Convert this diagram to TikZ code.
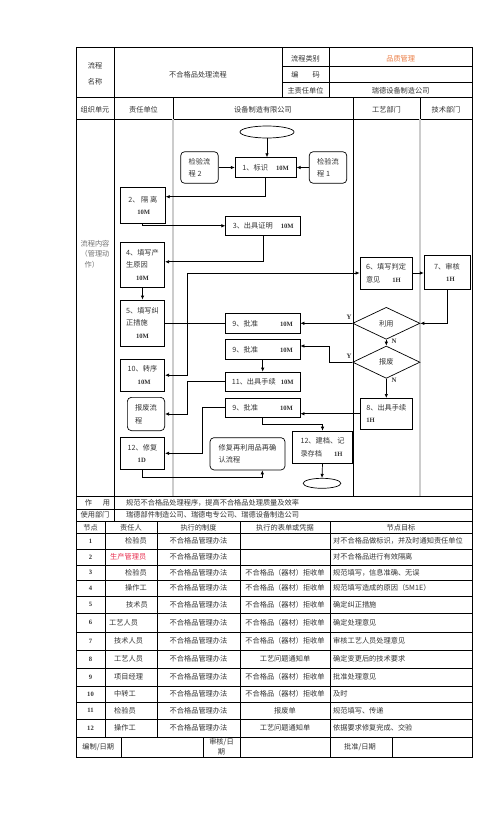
\documentclass[tikz,border=0pt]{standalone}
\usepackage{fontspec}
\setmainfont{Noto Sans CJK SC}
\newfontfamily\lser{Liberation Serif}
\usetikzlibrary{shapes.geometric,arrows.meta}
\definecolor{tx}{gray}{0.2}
\definecolor{orng}{RGB}{236,128,72}
\definecolor{redt}{RGB}{232,48,80}
\newcommand{\fsz}{\fontsize{7.2}{12.5}\selectfont}
\newcommand{\tm}[1]{{\lser\bfseries\fontsize{6.6}{12.5}\selectfont #1}}
\begin{document}
\begin{tikzpicture}[x=1pt,y=-1pt,
  every node/.style={font=\fsz,text=tx,inner sep=1pt},
  grid/.style={line width=0.8pt,black},
  lane/.style={line width=1.2pt,black!20},
  box/.style={draw,line width=0.7pt,align=left,inner sep=2pt,text=tx},
  rbox/.style={box,rounded corners=4pt},
  dia/.style={diamond,draw,line width=0.7pt,inner sep=0pt},
  oval/.style={ellipse,draw,line width=0.7pt,inner sep=0pt},
  arr/.style={line width=0.7pt,-{Latex[length=4pt,width=3.5pt]}},
  lbl/.style={font=\lser\bfseries\fontsize{6.8}{7}\selectfont,inner sep=0pt}
]
\fill[white] (0,0) rectangle (496,827);
\useasboundingbox (0,0) rectangle (496,827);

% ---------- frame and header grid ----------
\draw[grid] (76,47) rectangle (472,757);
\draw[grid] (114,47) -- (114,521);
\draw[grid] (282,47) -- (282,97);
\draw[grid] (329,47) -- (329,97);
\draw[grid] (282,66.7) -- (472,66.7);
\draw[grid] (282,82.3) -- (472,82.3);
\draw[grid] (76,97) -- (472,97);
\draw[grid] (76,119) -- (472,119);
\draw[grid] (173,97) -- (173,119);
\draw[grid] (353,97) -- (353,496);
\draw[grid] (420,97) -- (420,119);
\draw[lane] (173,119) -- (173,496);
\draw[lane] (420,119) -- (420,496);
% ---------- lower table grid ----------
\draw[grid] (76,496) -- (472,496);
\draw[grid] (76,509) -- (472,509);
\draw[grid] (76,521) -- (472,521);
\foreach \y in {533,549,565,580,596,613,632,650,668,686,702,719,737}
  \draw[grid] (76,\y) -- (472,\y);
\foreach \x in {105,157,240,330} \draw[grid] (\x,521) -- (\x,737);
\foreach \x in {121,203,240,330,392} \draw[grid] (\x,737) -- (\x,757);

% ---------- header texts ----------
\node[align=center,font=\fontsize{7.2}{16}\selectfont] (hname) at (95,74) {流程\\名称};
\node (htitle) at (198,74.3) {不合格品处理流程};
\node (hcat) at (305.5,59) {流程类别};
\node (hcode) at (305.5,75) {编\hspace{14pt}码};
\node (hunit) at (305.5,90.5) {主责任单位};
\node[text=orng] (hcatv) at (400.7,59) {品质管理};
\node (hunitv) at (400.7,90.5) {瑞德设备制造公司};
\node (r2a) at (95,109.3) {组织单元};
\node (r2b) at (143.5,109.3) {责任单位};
\node (r2c) at (263,109.3) {设备制造有限公司};
\node (r2d) at (386.5,109.3) {工艺部门};
\node (r2e) at (446,109.3) {技术部门};
\node[align=left,text=black!55,font=\fontsize{7.2}{10.7}\selectfont] (lab) at (95,254) {流程内容\\（管理动\\\hspace*{4pt}作）};

% ---------- flowchart nodes ----------
\node[oval,minimum width=54pt,minimum height=12pt] (st) at (267,132) {};
\node[box,minimum width=61pt,minimum height=19.7pt] (b1) at (265.7,167.5) {1、标识\hspace{8pt}\tm{10M}};
\node[rbox,minimum width=37.6pt,minimum height=31.6pt] (k2) at (199.5,167.5) {检验流\\程 2};
\node[rbox,minimum width=37.6pt,minimum height=31.6pt] (k1) at (328,167.5) {检验流\\程 1};
\node[box,minimum width=45pt,minimum height=36pt] (b2) at (142.8,205.3) {2、 隔 离\\\hspace*{9pt}\tm{10M}};
\node[box,minimum width=75pt,minimum height=18.3pt] (b3) at (263.2,225.8) {3、出具证明\hspace{8pt}\tm{10M}};
\node[box,minimum width=44.3pt,minimum height=45pt] (b4) at (142.5,264.8) {4、填写产\\生原因\\\hspace*{10pt}\tm{10M}};
\node[box,minimum width=44.3pt,minimum height=46pt] (b5) at (142.5,323) {5、填写纠\\正措施\\\hspace*{10pt}\tm{10M}};
\node[box,minimum width=52pt,minimum height=32pt] (b6) at (386,273) {6、填写判定\\意见\hspace*{12pt}\tm{1H}};
\node[box,minimum width=45.7pt,minimum height=33.6pt] (b7) at (447,272.5) {7、审核\\\hspace*{12pt}\tm{1H}};
\node[dia,minimum width=67.3pt,minimum height=32pt] (d1) at (386.3,323.3) {利用};
\node[dia,minimum width=67.3pt,minimum height=32.3pt] (d2) at (386.3,362.2) {报废};
\node[box,minimum width=52.7pt,minimum height=30.7pt] (b8) at (386.3,413.7) {8、出具手续\\\tm{1H}};
\node[box,minimum width=74.7pt,minimum height=20pt] (n9a) at (262.7,323.3) {9、批准\hspace{22pt}\tm{10M}};
\node[box,minimum width=74.7pt,minimum height=20pt] (n9b) at (262.7,349.3) {9、批准\hspace{22pt}\tm{10M}};
\node[box,minimum width=74.7pt,minimum height=19.3pt] (n11) at (262.7,381.7) {11、出具手续\hspace{5pt}\tm{10M}};
\node[box,minimum width=74.7pt,minimum height=19pt] (n9c) at (262.7,407.8) {9、批准\hspace{22pt}\tm{10M}};
\node[box,minimum width=59.7pt,minimum height=32.3pt] (j12) at (322.5,447.2) {12、建档、记\\录存档\hspace{12pt}\tm{1H}};
\node[rbox,minimum width=75pt,minimum height=32.3pt] (rf) at (247.5,453.8) {修复再利用品再确\\认流程};
\node[box,minimum width=44.3pt,minimum height=31.7pt] (b10) at (142.5,375.2) {10、转序\\\hspace*{10pt}\tm{10M}};
\node[rbox,minimum width=37.3pt,minimum height=33.3pt] (kb) at (146,414) {报废流\\程};
\node[box,minimum width=44.3pt,minimum height=32pt] (b12) at (142.5,453.3) {12、修复\\\hspace*{10pt}\tm{1D}};
\node[oval,minimum width=37.7pt,minimum height=10pt] (en) at (322,483.3) {};

\node[lbl] (ly1) at (349,317.7) {Y};
\node[lbl] (ln1) at (394,341.7) {N};
\node[lbl] (ly2) at (349,356) {Y};
\node[lbl] (ln2) at (394,380.5) {N};

% ---------- connectors ----------
\draw[arr] (st.south) -- (st.south |- b1.north);
\draw[arr] (k2.east) -- (b1.west);
\draw[arr] (k1.west) -- (b1.east);
\draw[arr] (b1.south) |- ([yshift=8.6pt]b2.east);
\draw[arr] (b2.south) |- (b3.west);
\draw[arr] (b3.south) |- ([yshift=3pt]b4.east);
\draw[arr] (b4.south) -- (b5.north);
\draw[arr] (b5.east) -- ++(22.8,0) |- (b6.west);
\draw[arr] (b6.east) -- (b6.east -| b7.west);
\draw[arr] (b7.south) |- (d1.east);
\draw[arr] (d1.west) -- (n9a.east);
\draw[arr] (d1.south) -- (d2.north);
\draw[arr] (d2.west) -- ++(-22.7,0) |- ([yshift=3.3pt]n9b.east);
\draw[arr] (d2.south) -- (b8.north);
\draw[arr] (b8.west) -- (b8.west -| n9c.east);
\draw[arr] (n9a.west) -- ++(-38,0) |- (b10.east);
\draw[arr] (n9b.south) -- (n11.north);
\draw[arr] (n11.west) -- ++(-37.6,0) |- (kb.east);
\draw[arr] (n9c.west) -- ++(-22.6,0) |- (b12.east);
\draw[arr] (n9c.south) -- ++(0,6.7) -| (j12.north);
\draw[arr] (b12.south) -- ++(0,7.4) -| ([xshift=14.8pt]rf.south);
\draw[arr] (j12.south) -- (en.north);

% ---------- lower table texts ----------
\node (zy) at (97.5,502.5) {作\hspace{11pt}用};
\node[anchor=west] (zyv) at (125,502.8) {规范不合格品处理程序，提高不合格品处理质量及效率};
\node (sy) at (95,514.8) {使用部门};
\node[anchor=west] (syv) at (125,514.8) {瑞德部件制造公司、瑞德电专公司、瑞德设备制造公司};
\node (th1) at (90.5,527.3) {节点};
\node (th2) at (131,527.3) {责任人};
\node (th3) at (198.5,527.3) {执行的制度};
\node (th4) at (285,527.3) {执行的表单或凭据};
\node (th5) at (401,527.3) {节点目标};

\foreach \i/\y/\xw/\who/\goal in {
  1/541/124/检验员/对不合格品做标识，并及时通知责任单位,
  2/557/109/{\textcolor{redt}{生产管理员}}/对不合格品进行有效隔离,
  3/572.5/124/检验员/规范填写，信息准确、无误,
  4/588/124/操作工/规范填写造成的原因（5M1E）,
  5/604.5/125/技术员/确定纠正措施,
  6/622.5/108/工艺人员/确定处理意见,
  7/641/113/技术人员/审核工艺人员处理意见,
  8/659/113/工艺人员/确定变更后的技术要求,
  9/677/113/项目经理/批准处理意见,
  10/694/113/中转工/及时,
  11/710.5/113/检验员/规范填写、传递,
  12/728/113/操作工/依据要求修复完成、交验}{
  \node (num\i) at (90.5,\y) {\tm{\i}};
  \node[anchor=west] (who\i) at (\xw,\y) {\who};
  \node (pol\i) at (198.5,\y) {不合格品管理办法};
  \node[anchor=west] (goal\i) at (332,\y) {\goal};
}
\foreach \i/\y/\f in {
  3/572.5/不合格品（器材）拒收单,
  4/588/不合格品（器材）拒收单,
  5/604.5/不合格品（器材）拒收单,
  6/622.5/不合格品（器材）拒收单,
  7/641/不合格品（器材）拒收单,
  8/659/工艺问题通知单,
  9/677/不合格品（器材）拒收单,
  10/694/不合格品（器材）拒收单,
  11/710.5/报废单,
  12/728/工艺问题通知单}{
  \node (frm\i) at (285,\y) {\f};
}
\node (bz) at (98.3,747) {编制/日期};
\node[align=center,font=\fontsize{7.2}{10}\selectfont] (sh) at (221.5,746.5) {审核/日\\期};
\node (pz) at (360,747) {批准/日期};
\end{tikzpicture}
\end{document}
